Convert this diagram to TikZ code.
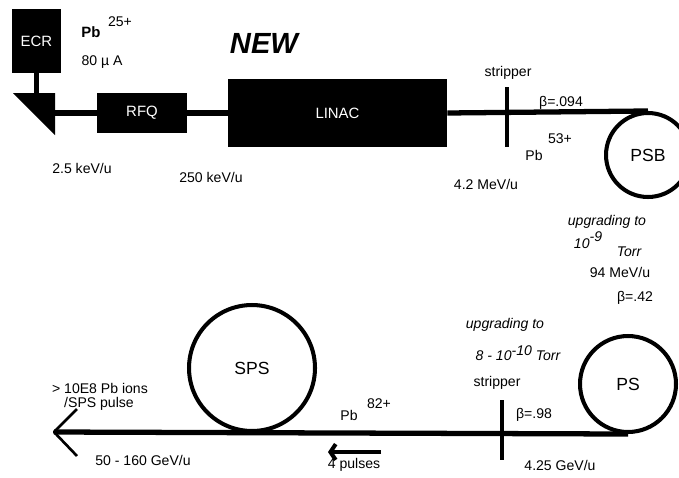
\documentclass[tikz,border=0pt]{standalone}
\usepackage{fontspec}
\setmainfont{Liberation Sans}
\usetikzlibrary{arrows.meta}

\tikzset{
  blk/.style={fill=black,draw=none,text=white,font=\fontsize{8.5}{10}\selectfont,inner sep=0pt},
  ring/.style={circle,draw=black,line width=2.3pt,inner sep=0pt,font=\fontsize{10}{12}\selectfont},
  beam/.style={line width=3pt},
  stripbar/.style={line width=2.8pt},
  lbl/.style={font=\fontsize{8}{9.5}\selectfont,inner sep=0pt},
  lblit/.style={font=\fontsize{8}{9.5}\selectfont\itshape,inner sep=0pt},
}

\begin{document}
\begin{tikzpicture}[x=0.02cm,y=-0.02cm,line join=round]
\path[use as bounding box] (0,0) rectangle (679,477);
\clip (0,0) rectangle (679,477);
% source and linac line
\node[blk,minimum width=0.98cm,minimum height=1.28cm] (ecr) at (36.5,41) {ECR};
\coordinate (bendA) at (13,93);
\coordinate (bendB) at (55,93);
\coordinate (bendC) at (55,135);
\fill (bendA) -- (bendB) -- (bendC) -- cycle;
\draw[line width=3.4pt] (ecr.south) -- (ecr.south |- bendA);
\node[blk,minimum width=1.8cm,minimum height=0.8cm] (rfq) at (142,113) {RFQ};
\node[blk,minimum width=4.38cm,minimum height=1.36cm] (linac) at (337.5,113) {LINAC};
\node[ring,minimum size=1.68cm] (psb) at (648,155) {PSB};
\draw[beam] (bendB |- rfq) -- (rfq.west);
\draw[beam] (rfq.east) -- (linac.west);
\draw[beam] (linac.east) -- (psb.north);
\draw[stripbar] (507,87) -- (507,147);
% rings
\node[ring,minimum size=1.92cm] (ps) at (628,384) {PS};
\node[ring,minimum size=2.52cm] (sps) at (252,368) {SPS};
\coordinate (out) at (54,432);
\draw[beam] (ps.south) -- (out);
\draw[line width=1.5pt] (77,409) -- (out) -- (77,456);
\draw[stripbar] (502,400) -- (502,460);
\coordinate (pulseA) at (381,452);
\coordinate (pulseB) at (328,452);
\draw[line width=2.3pt,-{Straight Barb[length=3pt,width=9pt]}] (pulseA) -- (pulseB);
% labels
\node[lbl,font=\fontsize{8.5}{10}\selectfont\bfseries] (pbA) at (91,32) {Pb};
\node[lbl] (pbAq) at (120,22) {25+};
\node[lbl] (curr) at (102,62) {80 µ A};
\node[lbl,font=\fontsize{16.6}{19}\selectfont\bfseries\itshape] (new) at (264,43) {NEW};
\node[lbl] (eA) at (82,168) {2.5 keV/u};
\node[lbl] (eB) at (211,177) {250 keV/u};
\node[lbl] (eC) at (486,184) {4.2 MeV/u};
\node[lbl] (stripA) at (508,73) {stripper};
\node[lbl] (betaA) at (561,103) {β=.094};
\node[lbl] (pbB) at (534,155) {Pb};
\node[lbl] (pbBq) at (560,139) {53+};
\node[lblit] (upA) at (607,222) {upgrading to};
\node[lblit] (vacA) at (588,240) {10\raisebox{4pt}{-9}};
\node[lblit] (torrA) at (629,252) {Torr};
\node[lbl] (eD) at (620,272) {94 MeV/u};
\node[lbl] (betaB) at (635,298) {β=.42};
\node[lblit] (upB) at (505,325) {upgrading to};
\node[lblit] (vacB) at (518,353) {8 - 10\raisebox{3pt}{-10} Torr};
\node[lbl] (stripB) at (497,383) {stripper};
\node[lbl] (betaC) at (534,415) {β=.98};
\node[lbl] (eE) at (560,465) {4.25 GeV/u};
\node[lbl] (pbC) at (349,415) {Pb};
\node[lbl] (pbCq) at (379,404) {82+};
\node[lbl] (npulse) at (354,465) {4 pulses};
\node[lbl] (ionsA) at (100,388) {> 10E8 Pb ions};
\node[lbl] (ionsB) at (99,404) {/SPS pulse};
\node[lbl] (eF) at (143,460) {50 - 160 GeV/u};
\end{tikzpicture}
\end{document}
